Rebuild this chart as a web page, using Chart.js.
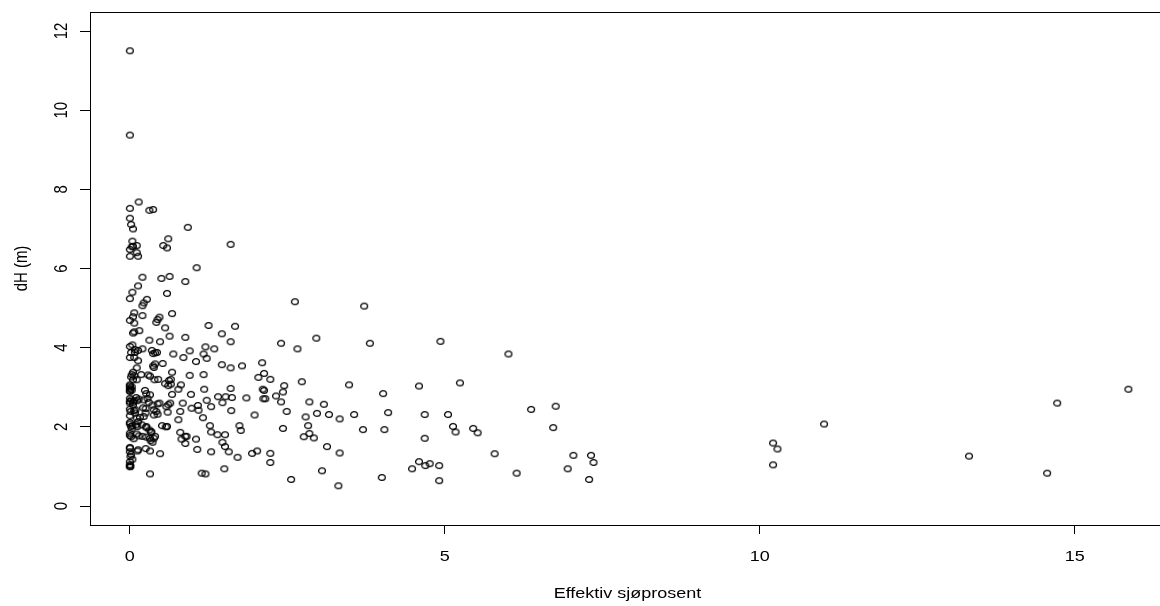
<!DOCTYPE html>
<html>
<head>
<meta charset="utf-8">
<script src="https://cdn.jsdelivr.net/npm/chart.js@4"></script>
<style>
  html, body { margin: 0; padding: 0; background: #fff; overflow: hidden; }
  #wrap { width: 1180px; height: 606px; }
</style>
</head>
<body>
<div id="wrap"><canvas id="myChart"></canvas></div>
<script>
// Effektiv sjøprosent (x) og dH (y), lest av fra figuren
const effektivSjoprosent = [
  // x > 2.35
  2.62, 3.72, 2.40, 2.66, 2.96, 3.81, 4.93, 6.01, 2.45, 2.43,
  2.73, 3.48, 4.02, 4.59, 5.24, 2.40, 2.49, 2.85, 3.08, 2.79,
  2.97, 3.16, 3.33, 3.56, 4.10, 4.68, 5.05, 6.37, 6.76, 2.43,
  2.83, 2.85, 2.76, 2.92, 3.70, 4.04, 5.13, 5.17, 5.45, 5.52,
  6.72, 4.68, 3.13, 3.33, 5.79, 7.04, 7.32, 7.36, 6.95, 4.59,
  4.48, 4.69, 4.76, 4.91, 3.05, 6.14, 2.56, 4.00, 4.91, 3.31,
  7.29, 10.21, 10.28, 10.21, 11.02, 13.32, 14.56, 14.72, 15.85,
  // 1.4 - 2.35
  1.60, 1.67, 1.46, 1.60, 1.46, 1.60, 1.78, 2.10, 2.04, 2.13,
  2.23, 1.60, 2.11, 2.13, 1.40, 1.52, 1.62, 1.85, 2.12, 2.15,
  2.32, 1.47, 1.61, 1.98, 1.74, 1.76, 1.39, 1.51, 1.47, 1.51,
  1.57, 1.71, 1.94, 2.02, 2.23, 2.23, 1.50,
  // 0.5 - 1.4
  0.92, 0.61, 0.53, 0.59, 1.06, 0.50, 0.63, 0.88, 0.59, 0.67,
  0.56, 1.25, 0.63, 0.88, 0.69, 0.95, 1.20, 1.34, 1.17, 1.22,
  0.85, 1.05, 0.52, 0.67, 0.95, 1.17, 0.65, 0.62, 0.56, 0.61,
  0.65, 0.81, 0.77, 1.18, 0.67, 0.97, 1.22, 0.84, 0.64, 0.61,
  0.58, 1.29, 1.08, 1.09, 0.98, 0.80, 0.60, 1.16, 0.77, 1.27,
  1.29, 0.51, 0.57, 0.59, 0.80, 0.82, 0.88, 0.90, 0.88, 1.05,
  1.07, 1.29, 1.14, 1.20,
  // 0.15 - 0.5
  0.31, 0.37, 0.20, 0.27, 0.20, 0.22, 0.42, 0.44, 0.47, 0.20,
  0.31, 0.48, 0.20, 0.35, 0.37, 0.40, 0.43, 0.40, 0.37, 0.38,
  0.29, 0.32, 0.39, 0.26, 0.32, 0.47, 0.38, 0.42, 0.38, 0.44,
  0.21, 0.25, 0.16, 0.22, 0.25, 0.26, 0.31, 0.34, 0.26, 0.34,
  0.26, 0.32, 0.36, 0.40, 0.20, 0.33, 0.38, 0.25, 0.32, 0.48,
  0.32, 0.44, 0.30, 0.22, 0.18, 0.24, 0.28, 0.45, 0.36, 0.19,
  // 0 - 0.15
  0.00, 0.00, 0.14, 0.00, 0.00, 0.02, 0.05, 0.04, 0.00, 0.05,
  0.11, 0.03, 0.11, 0.00, 0.13, 0.13, 0.04, 0.00, 0.00, 0.05,
  0.07, 0.07, 0.05, 0.07, 0.15, 0.00, 0.04, 0.08, 0.13, 0.02,
  0.08, 0.00, 0.07, 0.13, 0.11, 0.05, 0.03, 0.02, 0.07, 0.05,
  0.11, 0.00, 0.00, 0.03, 0.00, 0.03, 0.01, 0.00, 0.00, 0.00,
  0.02, 0.00, 0.05, 0.07, 0.12, 0.14, 0.00, 0.10, 0.00, 0.01,
  0.07, 0.09, 0.11, 0.13, 0.00, 0.02, 0.04, 0.10, 0.12, 0.00,
  0.00, 0.02, 0.11, 0.14, 0.00, 0.00, 0.04, 0.00, 0.00, 0.01,
  0.12, 0.13, 0.01, 0.00, 0.00, 0.00, 0.05, 0.08, 0.00, 0.03,
  0.00, 0.06, 0.02
];

const dH = [
  5.16, 5.05, 4.11, 3.97, 4.24, 4.11, 4.16, 3.84, 3.04, 2.88,
  3.14, 3.06, 2.84, 3.03, 3.11, 2.63, 2.39, 2.63, 2.57, 2.25,
  2.34, 2.31, 2.20, 2.31, 2.36, 2.31, 2.31, 2.44, 2.52, 1.96,
  2.03, 1.83, 1.75, 1.72, 1.93, 1.93, 2.01, 1.87, 1.96, 1.85,
  1.98, 1.71, 1.50, 1.34, 1.32, 1.28, 1.28, 1.10, 0.94, 1.12,
  0.94, 1.02, 1.07, 1.02, 0.89, 0.83, 0.67, 0.72, 0.64, 0.51,
  0.67, 1.59, 1.44, 1.04, 2.07, 1.26, 0.83, 2.60, 2.95,

  6.61, 4.54, 4.35, 4.15, 3.57, 3.49, 3.54, 3.62, 3.25, 3.35,
  3.20, 2.97, 2.95, 2.92, 2.76, 2.76, 2.74, 2.73, 2.71, 2.71,
  2.78, 2.61, 2.41, 2.30, 2.03, 1.91, 1.80, 1.80, 1.61, 1.50,
  1.37, 1.23, 1.33, 1.39, 1.33, 1.10, 0.94,

  7.04, 6.75, 6.58, 6.52, 6.02, 5.75, 5.80, 5.67, 5.37, 4.86,
  4.50, 4.56, 4.29, 4.26, 3.84, 3.92, 4.02, 3.97, 3.84, 3.73,
  3.75, 3.65, 3.60, 3.38, 3.30, 3.32, 3.20, 3.17, 3.09, 3.04,
  3.08, 3.06, 2.95, 2.95, 2.82, 2.82, 2.67, 2.60, 2.60, 2.56,
  2.51, 2.51, 2.54, 2.42, 2.47, 2.39, 2.37, 2.23, 2.18, 2.03,
  1.87, 2.03, 2.00, 2.01, 1.86, 1.69, 1.76, 1.76, 1.58, 1.69,
  1.43, 1.37, 0.83, 0.81,

  7.47, 7.49, 5.78, 5.22, 5.06, 5.13, 4.64, 4.71, 4.77, 4.81,
  4.19, 4.15, 3.97, 3.93, 3.85, 3.87, 3.88, 3.59, 3.54, 3.50,
  3.31, 3.28, 3.19, 2.84, 2.81, 2.60, 2.43, 2.39, 2.30, 2.32,
  2.48, 2.46, 2.24, 2.26, 2.35, 2.01, 1.92, 1.88, 1.98, 1.86,
  1.74, 1.71, 1.61, 1.76, 1.76, 1.65, 1.71, 1.45, 1.39, 1.32,
  0.81, 2.58, 2.62, 2.68, 3.32, 2.92, 2.72, 3.20, 2.55, 2.05,

  11.50, 9.37, 7.68, 7.52, 7.27, 7.11, 7.00, 6.69, 6.48, 6.56,
  6.58, 6.55, 6.40, 6.31, 6.31, 5.56, 5.40, 5.24, 4.69, 4.78,
  4.88, 4.62, 4.37, 4.40, 4.43, 4.03, 4.07, 3.95, 3.93, 3.88,
  3.88, 3.75, 3.75, 3.67, 3.49, 3.38, 3.32, 3.26, 3.29, 3.19,
  3.19, 3.06, 2.98, 2.93, 2.89, 3.01, 2.95, 2.92, 3.03, 2.72,
  2.68, 2.64, 2.62, 2.66, 2.66, 2.70, 2.60, 2.74, 2.45, 2.39,
  2.41, 2.43, 2.22, 2.13, 2.11, 2.01, 2.03, 2.05, 2.01, 2.07,
  1.84, 1.75, 1.82, 1.77, 1.48, 1.37, 1.18, 1.12, 1.01, 1.01,
  1.39, 1.42, 1.25, 1.46, 1.04, 0.99, 2.55, 2.35, 2.28, 1.95,
  1.78, 1.70, 1.30
];

const xTicks = [0, 5, 10, 15];
const yTicks = [0, 2, 4, 6, 8, 10, 12];
const xTitle = "Effektiv sjøprosent";
const yTitle = "dH (m)";

// åpen sirkel som i R (pch = 1), litt flatklemt som i bildet
const ring = document.createElement("canvas");
ring.width = 10;
ring.height = 9;
const rc = ring.getContext("2d");
rc.strokeStyle = "#000";
rc.lineWidth = 1.3;
rc.beginPath();
rc.ellipse(5, 4.5, 3.4, 2.9, 0, 0, Math.PI * 2);
rc.stroke();

const FONT = '18px "Liberation Sans", Arial, sans-serif';
const SQUASH = 0.83; // bildet er strukket i bredden

// ramme rundt plottet + tekst i R-stil
const rFrame = {
  id: "rFrame",
  afterDraw(chart) {
    const { ctx, chartArea: a, scales } = chart;
    ctx.save();
    ctx.strokeStyle = "#000";
    ctx.lineWidth = 1;
    ctx.strokeRect(Math.round(a.left) + 0.5, Math.round(a.top) + 0.5,
      Math.round(a.right - a.left), Math.round(a.bottom - a.top));

    ctx.fillStyle = "#000";
    ctx.font = FONT;
    ctx.textAlign = "center";
    ctx.textBaseline = "middle";

    scales.x.ticks.forEach((t) => {
      const px = scales.x.getPixelForValue(t.value);
      ctx.save();
      ctx.translate(px, 557);
      ctx.scale(1, SQUASH);
      ctx.fillText(String(t.value), 0, 0);
      ctx.restore();
    });

    scales.y.ticks.forEach((t) => {
      const py = scales.y.getPixelForValue(t.value);
      ctx.save();
      ctx.translate(62, py);
      ctx.rotate(-Math.PI / 2);
      ctx.scale(SQUASH, 1);
      ctx.fillText(String(t.value), 0, 0);
      ctx.restore();
    });

    ctx.save();
    ctx.translate((a.left + a.right) / 2, 594);
    ctx.scale(1, SQUASH);
    ctx.fillText(xTitle, 0, 0);
    ctx.restore();

    ctx.save();
    ctx.translate(22, (a.top + a.bottom) / 2);
    ctx.rotate(-Math.PI / 2);
    ctx.scale(SQUASH, 1);
    ctx.fillText(yTitle, 0, 0);
    ctx.restore();

    ctx.restore();
  },
};

const ctx = document.getElementById("myChart");
new Chart(ctx, {
  type: "scatter",
  data: {
    datasets: [
      {
        data: effektivSjoprosent.map((x, i) => ({ x: x, y: dH[i] })),
        pointStyle: ring,
        pointRadius: 4,
        showLine: false,
      },
    ],
  },
  options: {
    responsive: true,
    maintainAspectRatio: false,
    animation: false,
    devicePixelRatio: 1,
    layout: {
      autoPadding: false,
      padding: { left: 0, top: 12, right: 15, bottom: 0 },
    },
    scales: {
      x: {
        type: "linear",
        min: -0.632,
        max: 16.432,
        afterBuildTicks: (s) => { s.ticks = xTicks.map((v) => ({ value: v })); },
        afterFit: (s) => { s.height = 81; },
        border: { display: false },
        grid: { display: true, drawOnChartArea: false, drawTicks: true, tickLength: 9, color: "#000" },
        ticks: { display: false },
      },
      y: {
        type: "linear",
        min: -0.48,
        max: 12.48,
        afterBuildTicks: (s) => { s.ticks = yTicks.map((v) => ({ value: v })); },
        afterFit: (s) => { s.width = 90; },
        border: { display: false },
        grid: { display: true, drawOnChartArea: false, drawTicks: true, tickLength: 10, color: "#000" },
        ticks: { display: false },
      },
    },
    plugins: {
      legend: { display: false },
      tooltip: { enabled: false },
    },
  },
  plugins: [rFrame],
});
</script>
</body>
</html>
